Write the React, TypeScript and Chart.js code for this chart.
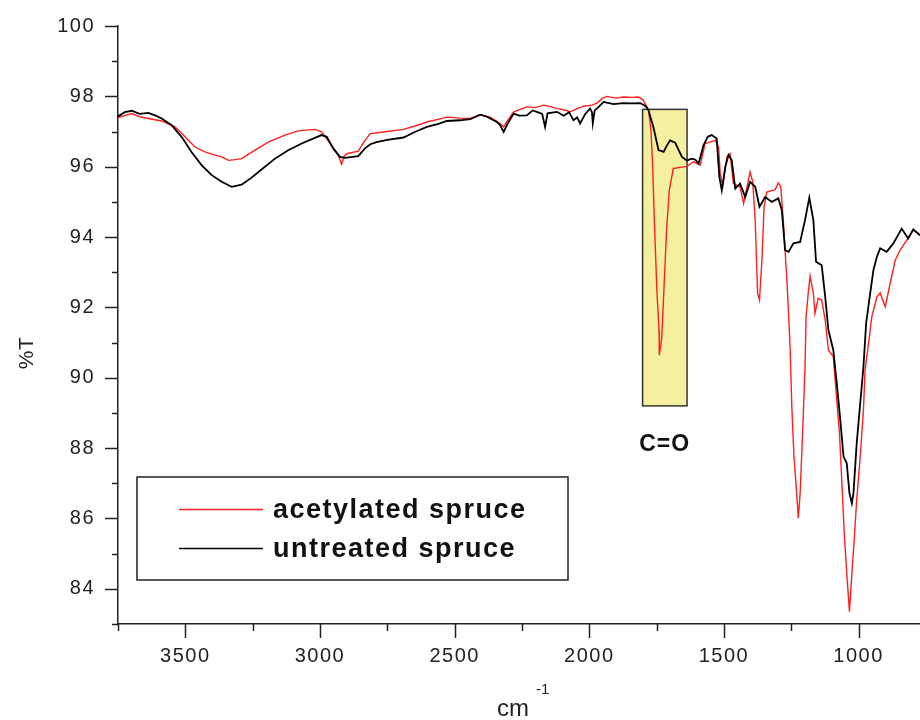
import React, { useEffect, useRef } from "react";
import { Chart, registerables } from "chart.js";

Chart.register(...registerables);

// ---- data (wavenumber in cm^-1, transmittance in %T) ----
const untreatedWn = [
  3750, 3725, 3699, 3670, 3637, 3610, 3588, 3551, 3514, 3477, 3439, 3402, 3365, 3328, 3291, 3254, 3217, 3167,
  3118, 3068, 3019, 2994, 2975, 2951, 2926, 2907, 2858, 2833, 2813, 2790, 2750, 2690, 2650, 2603, 2560, 2529,
  2480, 2442, 2405, 2380, 2368, 2345, 2331, 2318, 2305, 2281, 2260, 2232, 2210, 2195, 2175, 2164, 2155, 2120,
  2095, 2075, 2059, 2045, 2034, 2015, 1997, 1990, 1987, 1980, 1965, 1947, 1910, 1873, 1840, 1811, 1795, 1786,
  1780, 1762, 1743, 1724, 1712, 1700, 1681, 1656, 1638, 1619, 1606, 1594, 1576, 1560, 1545, 1527, 1517, 1508,
  1495, 1483, 1471, 1458, 1440, 1421, 1403, 1384, 1368, 1347, 1322, 1298, 1285, 1273, 1260, 1242, 1217, 1199,
  1183, 1168, 1158, 1137, 1124, 1112, 1094, 1081, 1069, 1056, 1044, 1034, 1025, 1019, 1007, 994, 982, 972, 957,
  945, 932, 920, 896, 871, 840, 816, 797, 772,
];
const untreatedT = [
  97.43, 97.55, 97.59, 97.5, 97.53, 97.45, 97.37, 97.18, 96.85, 96.42, 96.04, 95.76, 95.57, 95.43, 95.49, 95.69, 95.92, 96.23,
  96.47, 96.66, 96.82, 96.9, 96.85, 96.52, 96.28, 96.25, 96.3, 96.52, 96.64, 96.7, 96.76, 96.83, 96.98, 97.13, 97.22, 97.3,
  97.32, 97.35, 97.48, 97.42, 97.37, 97.28, 97.18, 96.99, 97.2, 97.51, 97.45, 97.46, 97.6, 97.56, 97.5, 97.13, 97.52, 97.56,
  97.45, 97.55, 97.32, 97.4, 97.23, 97.5, 97.65, 97.55, 97.23, 97.6, 97.7, 97.84, 97.78, 97.81, 97.8, 97.81, 97.74, 97.68,
  97.6, 97.13, 96.47, 96.42, 96.6, 96.75, 96.68, 96.28, 96.18, 96.23, 96.2, 96.09, 96.61, 96.85, 96.9, 96.8, 95.71, 95.33,
  95.99, 96.33, 96.18, 95.38, 95.52, 95.14, 95.57, 95.43, 94.86, 95.14, 95.0, 95.1, 94.76, 93.63, 93.58, 93.82, 93.86, 94.48,
  95.12, 94.48, 93.3, 93.2, 92.3, 91.35, 90.79, 89.84, 88.89, 87.76, 87.57, 86.72, 86.43, 86.72, 88.14, 89.27, 90.31, 91.55, 92.4,
  93.06, 93.44, 93.68, 93.58, 93.82, 94.24, 93.96, 94.22, 94.05,
];

const acetylatedWn = [
  3750, 3725, 3699, 3670, 3637, 3588, 3538, 3501, 3464, 3427, 3390, 3365, 3340, 3315, 3291, 3241, 3192, 3130,
  3081, 3019, 2994, 2957, 2932, 2920, 2910, 2901, 2858, 2833, 2813, 2750, 2690, 2650, 2603, 2529, 2480, 2442,
  2405, 2368, 2331, 2318, 2300, 2281, 2232, 2200, 2170, 2140, 2120, 2095, 2071, 2045, 2021, 1990, 1972, 1950,
  1935, 1900, 1873, 1840, 1817, 1800, 1786, 1780, 1771, 1764, 1759, 1749, 1741, 1740, 1731, 1723, 1713, 1703,
  1688, 1663, 1638, 1613, 1588, 1570, 1551, 1533, 1520, 1514, 1504, 1489, 1477, 1465, 1440, 1427, 1403, 1393,
  1384, 1375, 1368, 1359, 1351, 1341, 1310, 1298, 1289, 1279, 1267, 1260, 1254, 1248, 1240, 1230, 1224, 1217,
  1207, 1199, 1195, 1186, 1180, 1168, 1162, 1150, 1137, 1124, 1112, 1094, 1081, 1071, 1062, 1054, 1044, 1034,
  1025, 1017, 1007, 994, 982, 976, 963, 951, 932, 920, 901, 883, 864, 846, 821, 797, 772,
];
const acetylatedT = [
  97.4, 97.45, 97.51, 97.42, 97.37, 97.3, 97.13, 96.85, 96.56, 96.42, 96.33, 96.28, 96.18, 96.2, 96.23, 96.47, 96.7, 96.9,
  97.02, 97.06, 96.99, 96.61, 96.33, 96.07, 96.3, 96.37, 96.44, 96.75, 96.94, 97.0, 97.06, 97.15, 97.27, 97.41, 97.38, 97.37,
  97.48, 97.41, 97.23, 97.13, 97.35, 97.56, 97.7, 97.68, 97.75, 97.7, 97.65, 97.62, 97.56, 97.65, 97.72, 97.75, 97.81, 97.95,
  98.0, 97.95, 97.98, 97.97, 97.98, 97.9, 97.7, 97.6, 97.04, 95.9, 94.57, 92.49, 91.35, 90.64, 91.12, 92.49, 94.2, 95.33,
  95.95, 95.98, 96.01, 96.14, 96.05, 96.66, 96.7, 96.75, 96.56, 95.81, 95.47, 96.28, 96.37, 95.52, 95.43, 94.95, 95.85, 95.57,
  94.48, 92.4, 92.21, 93.34, 94.86, 95.28, 95.35, 95.54, 95.43, 94.39, 92.87, 91.83, 90.79, 89.18, 87.76, 86.72, 86.01, 86.72,
  88.61, 90.31, 91.73, 92.49, 92.89, 92.4, 91.83, 92.26, 92.21, 91.64, 90.79, 90.6, 89.37, 88.42, 87.0, 85.67, 84.44, 83.35,
  84.44, 85.3, 86.53, 87.76, 89.08, 90.22, 90.98, 91.73, 92.3, 92.41, 92.02, 92.68, 93.34, 93.63, 93.91, 94.2, 94.05,
];

const xMajorTicks = [3500, 3000, 2500, 2000, 1500, 1000];
const xMinorTicks = [3750, 3250, 2750, 2250, 1750, 1250];
const yMajorTicks = [84, 86, 88, 90, 92, 94, 96, 98, 100];
const yMinorTicks = [83, 85, 87, 89, 91, 93, 95, 97, 99];

const seriesLabels = ["acetylated spruce", "untreated spruce"];
const seriesColors = ["#ff1f1f", "#000000"];

// C=O highlighted band and its label (data coordinates)
const bandWn = [1802, 1637];
const bandT = [89.2, 97.63];
const bandLabel = "C=O";
const bandLabelPos = [1720, 88.1];

const X_MIN = 772;
const X_MAX = 3750;
const Y_MIN = 83;
const Y_MAX = 100;

const FONT = "'Liberation Sans', Arial, Helvetica, sans-serif";
const INK = "#222222";

const decorPlugin = {
  id: "decor",
  beforeDraw(chart: any) {
    (chart.ctx as any).letterSpacing = "1.5px";
  },
  beforeDatasetsDraw(chart: any) {
    const { ctx, scales } = chart;
    const x = scales.x;
    const y = scales.y;
    const x1 = x.getPixelForValue(bandWn[0]);
    const x2 = x.getPixelForValue(bandWn[1]);
    const y1 = y.getPixelForValue(bandT[1]);
    const y2 = y.getPixelForValue(bandT[0]);
    ctx.save();
    ctx.fillStyle = "#F5EFA0";
    ctx.fillRect(x1, y1, x2 - x1, y2 - y1);
    ctx.lineWidth = 1.5;
    ctx.strokeStyle = "#333333";
    ctx.strokeRect(x1, y1, x2 - x1, y2 - y1);
    ctx.restore();
  },
  afterDraw(chart: any) {
    const { ctx, scales, chartArea } = chart;
    const x = scales.x;
    const y = scales.y;
    ctx.save();
    ctx.strokeStyle = INK;
    ctx.lineWidth = 1.5;
    ctx.beginPath();
    yMajorTicks.forEach((v) => {
      const py = Math.round(y.getPixelForValue(v)) + 0.5;
      ctx.moveTo(chartArea.left - 13, py);
      ctx.lineTo(chartArea.left, py);
    });
    yMinorTicks.forEach((v) => {
      const py = Math.round(y.getPixelForValue(v)) + 0.5;
      ctx.moveTo(chartArea.left - 6, py);
      ctx.lineTo(chartArea.left, py);
    });
    xMajorTicks.forEach((v) => {
      const px = Math.round(x.getPixelForValue(v)) + 0.5;
      ctx.moveTo(px, chartArea.bottom);
      ctx.lineTo(px, chartArea.bottom + 14);
    });
    xMinorTicks.forEach((v) => {
      const px = Math.round(x.getPixelForValue(v)) + 0.5;
      ctx.moveTo(px, chartArea.bottom);
      ctx.lineTo(px, chartArea.bottom + 7);
    });
    ctx.stroke();

    // C=O label
    ctx.fillStyle = "#111111";
    ctx.font = `bold 23px ${FONT}`;
    ctx.textAlign = "center";
    ctx.textBaseline = "middle";
    (ctx as any).letterSpacing = "1px";
    ctx.fillText(bandLabel, x.getPixelForValue(bandLabelPos[0]), y.getPixelForValue(bandLabelPos[1]));

    // y axis title  %T (rotated)
    (ctx as any).letterSpacing = "0.5px";
    ctx.fillStyle = INK;
    ctx.font = `21px ${FONT}`;
    ctx.save();
    ctx.translate(27, 353);
    ctx.rotate(-Math.PI / 2);
    ctx.textAlign = "center";
    ctx.textBaseline = "middle";
    ctx.fillText("%T", 0, 0);
    ctx.restore();

    // x axis title  cm^-1
    (ctx as any).letterSpacing = "0px";
    ctx.fillStyle = INK;
    ctx.textAlign = "left";
    ctx.textBaseline = "alphabetic";
    ctx.font = `24px ${FONT}`;
    ctx.fillText("cm", 497, 716);
    ctx.font = `15px ${FONT}`;
    ctx.fillText("-1", 536, 694);

    // legend
    const lx = chartArea.left + 19;
    const ly = 477;
    const lw = 431;
    const lh = 103;
    ctx.fillStyle = "#ffffff";
    ctx.fillRect(lx, ly, lw, lh);
    ctx.strokeStyle = INK;
    ctx.lineWidth = 1.5;
    ctx.strokeRect(lx, ly, lw, lh);
    const rows = [509.5, 548.5];
    ctx.font = `bold 27px ${FONT}`;
    (ctx as any).letterSpacing = "1.5px";
    ctx.textBaseline = "middle";
    seriesLabels.forEach((lab, i) => {
      ctx.strokeStyle = seriesColors[i];
      ctx.lineWidth = 1.5;
      ctx.beginPath();
      ctx.moveTo(lx + 42, rows[i]);
      ctx.lineTo(lx + 126, rows[i]);
      ctx.stroke();
      ctx.fillStyle = "#111111";
      ctx.fillText(lab, lx + 136, rows[i] + 1);
    });
    ctx.restore();
  },
};

export default function App() {
  const ref = useRef<HTMLCanvasElement | null>(null);

  useEffect(() => {
    if (!ref.current) return;
    const toXY = (xs: number[], ys: number[]) => xs.map((v, i) => ({ x: v, y: ys[i] }));
    const chart = new Chart(ref.current, {
      type: "line",
      data: {
        datasets: [
          {
            label: seriesLabels[0],
            data: toXY(acetylatedWn, acetylatedT),
            borderColor: seriesColors[0],
            borderWidth: 1.4,
            pointRadius: 0,
            tension: 0,
            order: 2,
          },
          {
            label: seriesLabels[1],
            data: toXY(untreatedWn, untreatedT),
            borderColor: seriesColors[1],
            borderWidth: 1.8,
            pointRadius: 0,
            tension: 0,
            order: 1,
          },
        ],
      },
      options: {
        animation: false,
        responsive: false,
        events: [],
        layout: { padding: { top: 26, right: 0, bottom: 0, left: 0 } },
        plugins: {
          legend: { display: false },
          tooltip: { enabled: false },
        },
        scales: {
          x: {
            type: "linear",
            reverse: true,
            min: X_MIN,
            max: X_MAX,
            grid: { display: false, drawTicks: false },
            border: { display: true, color: INK, width: 1.5 },
            ticks: {
              color: INK,
              font: { family: FONT, size: 20 },
              padding: 20,
              maxRotation: 0,
              autoSkip: false,
              callback: (v: any) => String(v),
            },
            afterBuildTicks: (s: any) => {
              s.ticks = xMajorTicks.map((v) => ({ value: v }));
            },
            afterFit: (s: any) => {
              s.height = 96;
              s.paddingLeft = 0;
              s.paddingRight = 0;
              s.paddingTop = 0;
              s.paddingBottom = 0;
            },
          },
          y: {
            type: "linear",
            min: Y_MIN,
            max: Y_MAX,
            grid: { display: false, drawTicks: false },
            border: { display: true, color: INK, width: 1.5 },
            ticks: {
              color: INK,
              font: { family: FONT, size: 20 },
              padding: 23,
              autoSkip: false,
              callback: (v: any) => String(v),
            },
            afterBuildTicks: (s: any) => {
              s.ticks = yMajorTicks.map((v) => ({ value: v }));
            },
            afterFit: (s: any) => {
              s.width = 118;
              s.paddingTop = 0;
              s.paddingBottom = 0;
              s.paddingLeft = 0;
              s.paddingRight = 0;
            },
          },
        },
      },
      plugins: [decorPlugin],
    });
    return () => chart.destroy();
  }, []);

  return (
    <div style={{ position: "fixed", left: 0, top: 0, width: 920, height: 720, background: "#ffffff" }}>
      <canvas ref={ref} width={920} height={720} style={{ display: "block" }} />
    </div>
  );
}
